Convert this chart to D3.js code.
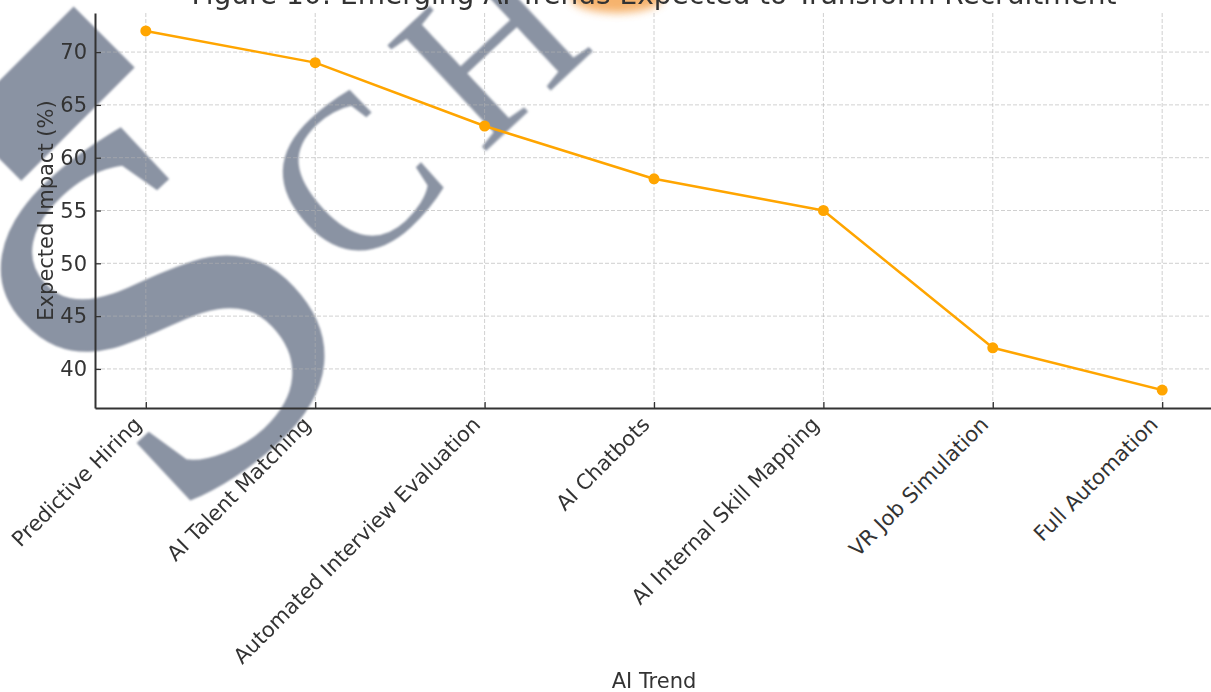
<!DOCTYPE html>
<html>
<head>
<meta charset="utf-8">
<script src="https://cdn.jsdelivr.net/npm/d3@7"></script>
<style>
  html, body { margin: 0; padding: 0; background: #ffffff; }
  svg { display: block; font-family: "DejaVu Sans", sans-serif; }
</style>
</head>
<body>
<svg id="chart" width="1211" height="692"></svg>
<script>
// ---- data ----
const categories = [
  "Predictive Hiring",
  "AI Talent Matching",
  "Automated Interview Evaluation",
  "AI Chatbots",
  "AI Internal Skill Mapping",
  "VR Job Simulation",
  "Full Automation"
];
const impact = [72, 69, 63, 58, 55, 42, 38];
const yTicks = [40, 45, 50, 55, 60, 65, 70];
const titleText = "Figure 10: Emerging AI Trends Expected to Transform Recruitment";
const xTitle = "AI Trend";
const yTitle = "Expected Impact (%)";
const markLetters = ["\u25A0", "S", "C", "H"];

// ---- layout ----
const plot = { left: 95, right: 1213, top: 13, bottom: 408 };
const textColor = "#333333";
const lineColor = "#FFA500";
const tickFont = 21;

const svg = d3.select("#chart");
const defs = svg.append("defs");
defs.append("filter").attr("id", "soft")
  .attr("x", "-20%").attr("y", "-20%").attr("width", "140%").attr("height", "140%")
  .append("feGaussianBlur").attr("stdDeviation", 1.2);
defs.append("filter").attr("id", "glow")
  .attr("x", "-50%").attr("y", "-100%").attr("width", "200%").attr("height", "300%")
  .append("feGaussianBlur").attr("stdDeviation", 4);

// scales (5% margins on both axes)
const x = d3.scalePoint().domain(categories).range([plot.left, plot.right]).padding(0.3);
const [lo, hi] = d3.extent(impact);
const pad = (hi - lo) * 0.05;
const y = d3.scaleLinear().domain([lo - pad, hi + pad]).range([plot.bottom, plot.top]);

// ---- background stamp: large serif letters set on a diagonal ----
const stamp = svg.append("g").attr("filter", "url(#soft)")
  .attr("fill", "#8a93a3")
  .attr("font-family", "'Liberation Serif', 'DejaVu Serif', serif");
const stampPlacement = [
  { size: 150, cx: 42, cy: 88, rot: -45, sx: 1.4, sy: 0.75, family: "'DejaVu Sans'" },
  { size: 520, cx: 162, cy: 310, rot: -43, sx: 1, sy: 1 },
  { size: 220, cx: 353, cy: 179, rot: -43, sx: 1, sy: 1 },
  { size: 220, cx: 490, cy: 48, rot: -43, sx: 1, sy: 1 }
];
markLetters.forEach((ch, i) => {
  const p = stampPlacement[i];
  const t = stamp.append("text")
    .attr("transform", `translate(${p.cx},${p.cy}) rotate(${p.rot}) scale(${p.sx},${p.sy})`)
    .attr("text-anchor", "middle")
    .attr("dy", "0.33em")
    .attr("font-size", p.size)
    .text(ch);
  if (p.family) t.attr("font-family", p.family);
});

// orange glow behind the title
svg.append("ellipse")
  .attr("cx", 617).attr("cy", -2).attr("rx", 46).attr("ry", 15)
  .attr("fill", "#f4a04a").attr("opacity", 0.8)
  .attr("filter", "url(#glow)");

// ---- grid ----
const grid = svg.append("g")
  .attr("stroke", "#b0b0b0").attr("stroke-opacity", 0.6)
  .attr("stroke-width", 1).attr("stroke-dasharray", "4,2");
grid.selectAll("line.v").data(categories).join("line")
  .attr("class", "v")
  .attr("x1", d => x(d)).attr("x2", d => x(d))
  .attr("y1", plot.top).attr("y2", plot.bottom);
grid.selectAll("line.h").data(yTicks).join("line")
  .attr("class", "h")
  .attr("x1", plot.left).attr("x2", plot.right)
  .attr("y1", d => y(d)).attr("y2", d => y(d));

// ---- axes ----
const yAxis = svg.append("g")
  .attr("transform", `translate(${plot.left},0)`)
  .call(d3.axisLeft(y).tickValues(yTicks).tickSize(-6).tickSizeOuter(0).tickPadding(8));

const xAxis = svg.append("g")
  .attr("transform", `translate(0,${plot.bottom})`)
  .call(d3.axisBottom(x).tickSize(-6).tickSizeOuter(0));

[yAxis, xAxis].forEach(g => {
  g.select(".domain").attr("stroke", textColor).attr("stroke-width", 2);
  g.selectAll(".tick line").attr("stroke", textColor).attr("stroke-width", 1.3);
  g.selectAll(".tick text")
    .attr("fill", textColor)
    .attr("font-size", tickFont)
    .attr("font-family", "'DejaVu Sans', sans-serif");
});

// rotated category labels: right end anchored at the tick, just under the axis
const asc = 0.928 * tickFont, desc = 0.236 * tickFont, gap = 4;
xAxis.selectAll(".tick text")
  .attr("x", 0).attr("y", 0).attr("dy", 0)
  .attr("text-anchor", "end")
  .attr("transform", `translate(${-0.707 * desc},${gap + 0.707 * asc}) rotate(-45)`);

// ---- series ----
const line = d3.line().x((d, i) => x(categories[i])).y(d => y(d));
svg.append("path")
  .datum(impact)
  .attr("d", line)
  .attr("fill", "none")
  .attr("stroke", lineColor)
  .attr("stroke-width", 2.5)
  .attr("stroke-linejoin", "round");
svg.selectAll("circle.pt").data(impact).join("circle")
  .attr("class", "pt")
  .attr("cx", (d, i) => x(categories[i]))
  .attr("cy", d => y(d))
  .attr("r", 5.5)
  .attr("fill", lineColor);

// ---- titles ----
svg.append("text")
  .attr("x", (plot.left + plot.right) / 2).attr("y", 4)
  .attr("text-anchor", "middle")
  .attr("font-size", 28)
  .attr("fill", textColor)
  .text(titleText);

svg.append("text")
  .attr("x", (plot.left + plot.right) / 2).attr("y", 688)
  .attr("text-anchor", "middle")
  .attr("font-size", tickFont)
  .attr("fill", textColor)
  .text(xTitle);

svg.append("text")
  .attr("transform", `translate(53,${(plot.top + plot.bottom) / 2}) rotate(-90)`)
  .attr("text-anchor", "middle")
  .attr("font-size", tickFont)
  .attr("fill", textColor)
  .text(yTitle);
</script>
</body>
</html>
